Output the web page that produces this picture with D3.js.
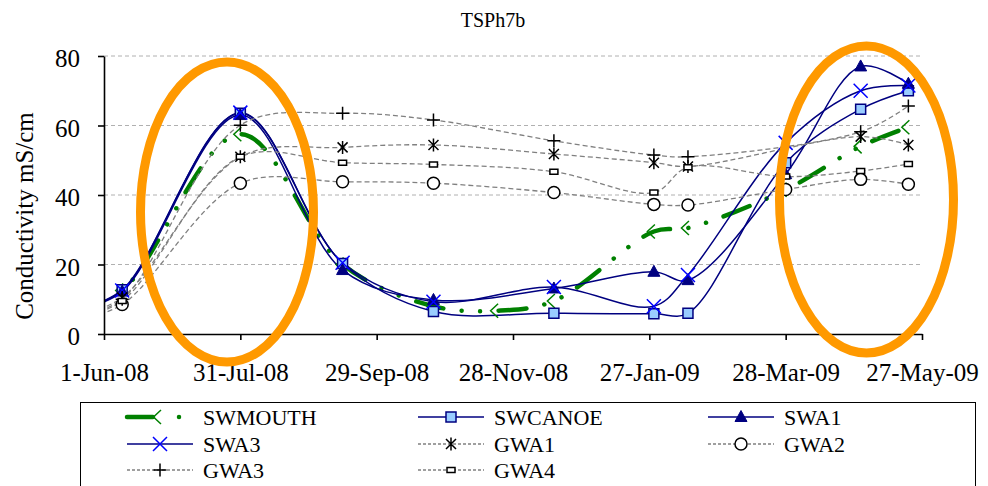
<!DOCTYPE html>
<html><head><meta charset="utf-8">
<script src="https://cdn.jsdelivr.net/npm/d3@7"></script>
<style>
body{margin:0;background:#fff}
svg{display:block}
text{font-family:"Liberation Serif","Times New Roman",serif;fill:#000}
</style>
</head><body>
<svg id="c" width="988" height="486"></svg>
<script>
// ---- data ----
const sampleDates = ["2008-05-20","2008-06-09","2008-07-31","2008-09-14","2008-10-24","2008-11-21","2008-12-16","2009-01-29","2009-02-13","2009-03-28","2009-04-30","2009-05-21"];
const SWMOUTH = [7, 12.5, 57.5, 20.0, 8.0, 6.7, 9.5, 29.5, 30.5, 41.5, 54.0, 59.5];
const SWCANOE = [7, 12.7, 63.5, 20.3, 6.5, null, 6.0, 5.8, 6.0, 49.3, 64.7, 70.0];
const SWA1    = [7, 12.2, 63.0, 18.4, 9.8, null, 13.1, 17.9, 15.5, 46.0, 77.0, 72.0];
const SWA3    = [7, 12.5, 63.7, 20.5, 9.3, null, 13.5, 8.0, 17.0, 55.0, 70.0, 71.5];
const GWA1    = [5.0, 10.5, 51.0, 53.7, 54.4, null, 51.8, 49.3, 48.2, null, 56.8, 54.4];
const GWA2    = [4.0, 8.5, 43.4, 43.8, 43.4, null, 40.7, 37.3, 37.1, 41.6, 44.5, 43.1];
const GWA3    = [5.0, 10.0, 60.1, 63.5, 61.6, null, 55.6, 51.5, 51.0, null, 58.2, 65.6];
const GWA4    = [4.5, 9.5, 51.0, 49.3, 48.8, null, 46.7, 40.7, 48.0, 45.3, 46.9, 48.9];
const seriesNames = ["SWMOUTH","SWCANOE","SWA1","SWA3","GWA1","GWA2","GWA3","GWA4"];
const xTickDates = ["2008-06-01","2008-07-31","2008-09-29","2008-11-28","2009-01-27","2009-03-28","2009-05-27"];
const yTicks = [0, 20, 40, 60, 80];
const titleText = "TSPh7b";
const yTitle = "Conductivity mS/cm";

// ---- setup ----
const parse = d3.utcParse("%Y-%m-%d");
const svg = d3.select("#c");
const L = 104, R = 922, T = 56, B = 334;
const x = d3.scaleUtc().domain([parse(xTickDates[0]), parse(xTickDates[xTickDates.length-1])]).range([L, R]);
const y = d3.scaleLinear().domain([0, 80]).range([B, T]);

const styles = {
  SWMOUTH:{stroke:"#008000", width:4.5, dash:"28 18.5 0.01 18.5 0.01 18.5", cap:"round", marker:"diamondHalf", mstroke:"#008000", mfill:"none"},
  SWCANOE:{stroke:"#000080", width:1.5, dash:null, marker:"square", mstroke:"#000080", mfill:"#99CCFF"},
  SWA1:{stroke:"#000080", width:1.5, dash:null, marker:"triangle", mstroke:"#000080", mfill:"#000080"},
  SWA3:{stroke:"#000080", width:1.5, dash:null, marker:"x", mstroke:"#0000FF", mfill:"none"},
  GWA1:{stroke:"#808080", width:1.3, dash:"5 3", marker:"asterisk", mstroke:"#000", mfill:"none"},
  GWA2:{stroke:"#808080", width:1.3, dash:"5 3", marker:"circle", mstroke:"#000", mfill:"#fff"},
  GWA3:{stroke:"#808080", width:1.3, dash:"5 3", marker:"plus", mstroke:"#000", mfill:"none"},
  GWA4:{stroke:"#808080", width:1.3, dash:"5 3", marker:"smallrect", mstroke:"#000", mfill:"#fff"}
};
const values = {SWMOUTH, SWCANOE, SWA1, SWA3, GWA1, GWA2, GWA3, GWA4};

const markerPaths = {
  diamondHalf:"M1,-7L-6.5,0L1,7",
  square:"M-5,-5H5V5H-5Z",
  triangle:"M0,-6.5L6,4.5L-6,4.5Z",
  x:"M-7,-7L7,7M-7,7L7,-7",
  asterisk:"M-5,-5L5,5M-5,5L5,-5M0,-6.5V6.5",
  plus:"M-6.5,0H6.5M0,-6.5V6.5",
  smallrect:"M-4,-2.5H4V2.5H-4Z"
};
function drawMarker(g, st, cx, cy){
  if (st.marker === "circle") {
    g.append("circle").attr("cx",cx).attr("cy",cy).attr("r",6)
      .attr("fill",st.mfill).attr("stroke",st.mstroke).attr("stroke-width",1.5);
  } else {
    g.append("path").attr("d",markerPaths[st.marker]).attr("transform",`translate(${cx},${cy})`)
      .attr("fill",st.mfill).attr("stroke",st.mstroke)
      .attr("stroke-width", st.marker==="triangle"?1:1.5);
  }
}

// clip
svg.append("defs").append("clipPath").attr("id","plotclip")
  .append("rect").attr("x",L).attr("y",20).attr("width",R-L+2).attr("height",B-20);

// gridlines
svg.append("g").selectAll("line").data(yTicks.filter(d=>d>0)).join("line")
  .attr("x1",L).attr("x2",R-2).attr("y1",d=>y(d)).attr("y2",d=>y(d))
  .attr("stroke","#B0B0B0").attr("stroke-width",1).attr("stroke-dasharray","4 3");

// series
const line = d3.line().x(d=>x(d.date)).y(d=>y(d.v)).curve(d3.curveCatmullRom.alpha(0.5));
const plot = svg.append("g").attr("clip-path","url(#plotclip)");
seriesNames.forEach(name=>{
  const st = styles[name];
  const pts = sampleDates.map((d,i)=>({date:parse(d), v:values[name][i]})).filter(p=>p.v!=null);
  plot.append("path").datum(pts).attr("d",line).attr("fill","none")
    .attr("stroke",st.stroke).attr("stroke-width",st.width)
    .attr("stroke-dasharray",st.dash).attr("stroke-linecap",st.cap||"butt");
});
seriesNames.forEach(name=>{
  const st = styles[name];
  const g = plot.append("g");
  sampleDates.forEach((d,i)=>{
    const v = values[name][i];
    if (v==null) return;
    drawMarker(g, st, x(parse(d)), y(v));
  });
});

// axes
const fmt = d3.utcFormat("%-d-%b-%y");
const xAxis = svg.append("g").attr("transform",`translate(0,${B})`)
  .call(d3.axisBottom(x).tickValues(xTickDates.map(parse)).tickFormat(fmt).tickSize(6).tickSizeOuter(0));
xAxis.selectAll("text").attr("y",29).attr("font-size",25).attr("font-family","Liberation Serif, Times New Roman, serif");
const yAxis = svg.append("g").attr("transform",`translate(${L},0)`)
  .call(d3.axisLeft(y).tickValues(yTicks).tickSize(6).tickSizeOuter(0));
yAxis.selectAll("text").attr("x",-24).attr("dy","0.42em").attr("font-size",25).attr("font-family","Liberation Serif, Times New Roman, serif");
[xAxis,yAxis].forEach(a=>{a.select(".domain").attr("stroke","#000").attr("stroke-width",1.6);
  a.selectAll(".tick line").attr("stroke","#000").attr("stroke-width",1.6);});

// y title
svg.append("text").attr("transform","translate(33,216) rotate(-90)").attr("text-anchor","middle")
  .attr("font-size",25).text(yTitle);
// title
svg.append("text").attr("x",493).attr("y",27).attr("text-anchor","middle").attr("font-size",20).text(titleText);

// orange ellipses
svg.append("ellipse").attr("cx",227).attr("cy",212).attr("rx",86.5).attr("ry",150)
  .attr("fill","none").attr("stroke","#FF9900").attr("stroke-width",9);
svg.append("ellipse").attr("cx",866.5).attr("cy",199.5).attr("rx",87).attr("ry",153.5)
  .attr("fill","none").attr("stroke","#FF9900").attr("stroke-width",9);

// legend
const lg = svg.append("g");
lg.append("rect").attr("x",80.5).attr("y",402.5).attr("width",895).attr("height",120)
  .attr("fill","#fff").attr("stroke","#000").attr("stroke-width",1);
const colX = [127, 418, 708], rowY = [417, 444, 470];
seriesNames.forEach((name,i)=>{
  const st = styles[name];
  const cx0 = colX[i%3], cy0 = rowY[Math.floor(i/3)];
  const isGW = name.startsWith("GW");
  lg.append("line").attr("x1",cx0).attr("x2",cx0+66).attr("y1",cy0).attr("y2",cy0)
    .attr("stroke",st.stroke).attr("stroke-width",st.width)
    .attr("stroke-dasharray", name==="SWMOUTH" ? "26 26 0.01 40" : (isGW ? "3 2" : null))
    .attr("stroke-linecap",st.cap||"butt");
  drawMarker(lg, st, cx0+33, cy0);
  lg.append("text").attr("x",cx0+76).attr("y",cy0).attr("dy","0.35em").attr("font-size",22).text(name);
});
</script>
</body></html>
